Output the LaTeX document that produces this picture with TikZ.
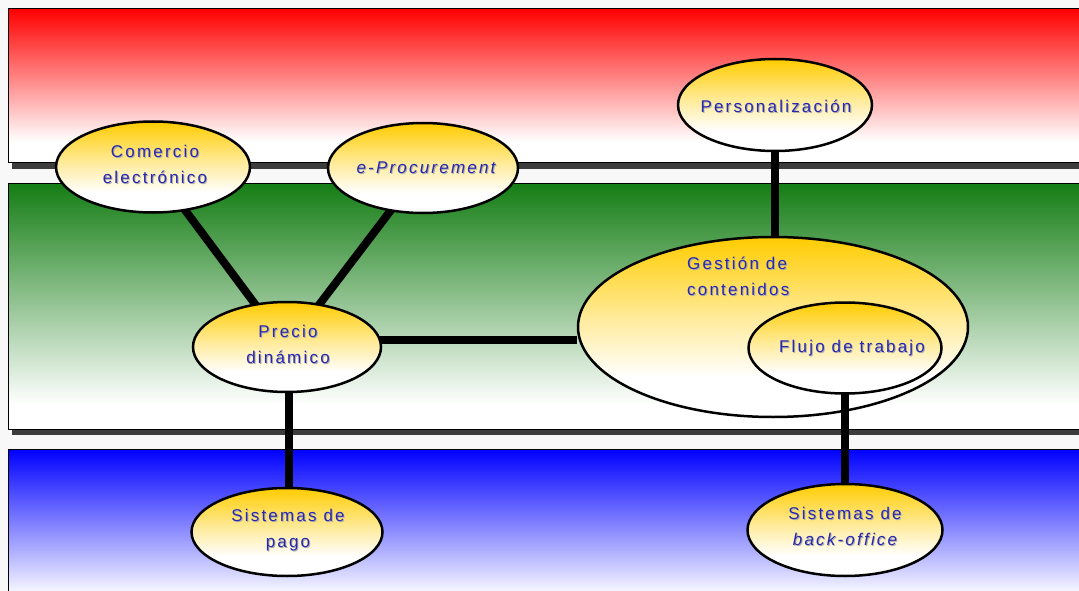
\documentclass[tikz,border=0pt]{standalone}
\usepackage{fontspec}
\setmainfont{Liberation Sans}[LetterSpace=13]
\usetikzlibrary{shapes.geometric}
\definecolor{bandred}{RGB}{255,0,0}
\definecolor{bandgreen}{RGB}{20,125,20}
\definecolor{bandblue}{RGB}{0,0,255}
\definecolor{pagebg}{RGB}{248,248,248}
\definecolor{shadowc}{RGB}{60,60,60}
\definecolor{gold}{RGB}{255,204,0}
\definecolor{txtblue}{RGB}{40,40,175}
\definecolor{txtshadow}{RGB}{175,175,175}
\pgfdeclarelayer{bg}\pgfdeclarelayer{gest}\pgfdeclarelayer{conn}
\pgfsetlayers{bg,gest,conn,main}
\pgfdeclareverticalshading{redband}{100bp}{color(0bp)=(white); color(32bp)=(white); color(75bp)=(bandred); color(100bp)=(bandred)}
\pgfdeclareverticalshading{greenband}{100bp}{color(0bp)=(white); color(30bp)=(white); color(75bp)=(bandgreen); color(100bp)=(bandgreen)}
\pgfdeclareverticalshading{blueband}{100bp}{color(0bp)=(white); color(26bp)=(white); color(75bp)=(bandblue); color(100bp)=(bandblue)}
\pgfdeclareverticalshading{goldshade}{100bp}{color(0bp)=(white); color(36bp)=(white); color(52bp)=(gold!38!white); color(75bp)=(gold); color(100bp)=(gold)}
\newcommand\shd[1]{\leavevmode\rlap{\kern1pt\raisebox{-1pt}{\textcolor{txtshadow}{#1}}}#1}
\begin{document}
\begin{tikzpicture}[x=1pt,y=-1pt,
  band/.style={draw=black,line width=1pt},
  bubble/.style={ellipse,draw=black,line width=2.5pt,shade,shading=goldshade,inner sep=0pt},
  lbl/.style={text=txtblue,align=center,inner sep=0pt,font=\fontsize{17}{26}\selectfont},
  conn/.style={draw=black,line width=8pt}]
\useasboundingbox (0,0) rectangle (1079,591);
\begin{pgfonlayer}{bg}
\fill[pagebg] (0,0) rectangle (1079,591);
\fill[shadowc] (12,15) rectangle (1090,169);
\shade[band,shading=redband] (8,9) rectangle (1090,163);
\fill[shadowc] (12,189) rectangle (1090,435);
\shade[band,shading=greenband] (8,183) rectangle (1090,429);
\shade[band,shading=blueband] (8,449) rectangle (1090,600);
\end{pgfonlayer}

\begin{pgfonlayer}{gest}
\node[bubble,minimum width=390pt,minimum height=180pt] (gest) at (773,327) {};
\end{pgfonlayer}

\node[bubble,minimum width=194pt,minimum height=91pt] (com) at (153,167) {};
\node[bubble,minimum width=190pt,minimum height=90pt] (proc) at (423,168) {};
\node[bubble,minimum width=194pt,minimum height=92pt] (pers) at (775,105) {};
\node[bubble,minimum width=188pt,minimum height=90pt] (precio) at (287,347) {};
\node[bubble,minimum width=193pt,minimum height=91pt] (flujo) at (845,348) {};
\node[bubble,minimum width=191pt,minimum height=88pt] (pago) at (287,532) {};
\node[bubble,minimum width=195pt,minimum height=92pt] (back) at (845,530) {};

\begin{pgfonlayer}{conn}
\draw[conn] (com.center) -- (precio.center);
\draw[conn] (proc.center) -- (precio.center);
\draw[conn] ([yshift=7pt]precio.center) -- ([yshift=7pt]precio.center -| gest.west);
\draw[conn] (pers.center) -- (pers.center |- gest.north);
\draw[conn] ([xshift=2pt]precio.center) -- ([xshift=2pt]pago.center);
\draw[conn] (flujo.center) -- (back.center);
\end{pgfonlayer}

\node[lbl] (tcom) at (155,165) {\shd{Comercio}\\\shd{electrónico}};
\node[lbl,font=\fontsize{17}{26}\selectfont\itshape] (tproc) at (426,168) {\shd{e-Procurement}};
\node[lbl] (tpers) at (776,107) {\shd{Personalización}};
\node[lbl] (tprecio) at (288,345) {\shd{Precio}\\\shd{dinámico}};
\node[lbl,align=left,anchor=west] (tgest) at (687,277) {\shd{Gestión de}\\\shd{contenidos}};
\node[lbl] (tflujo) at (852,349) {\shd{Flujo de trabajo}};
\node[lbl] (tpago) at (288,531) {\shd{Sistemas de}\\\shd{pago}};
\node[lbl] (tback) at (845,527) {\shd{Sistemas de}\\\shd{\itshape back-office}};
\end{tikzpicture}
\end{document}
